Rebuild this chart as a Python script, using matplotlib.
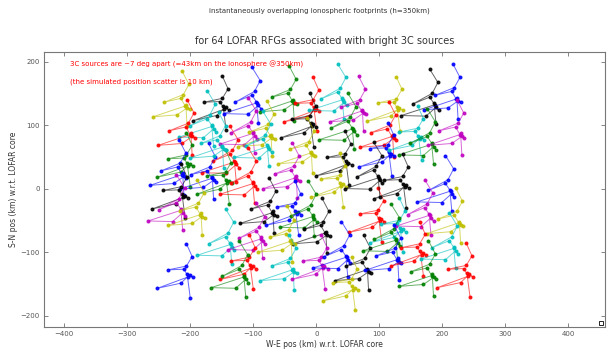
import matplotlib
matplotlib.use('Agg')
import matplotlib.pyplot as plt

# LOFAR station layout as seen on the ionosphere (km offsets from the core), path order
shape_a_x = [-5, 6, -3, -33, -7, 0, -51, -13, 3, 7, 1, 3]
shape_a_y = [55, 34, 18, 6, 12, 0, -17, -14, -3, -5, 2, -32]
shape_b_x = [-1, 8, -1, -30, -5, 2, -47, -10, 4, 9, 0, 5]
shape_b_y = [50, 30, 15, 9, 10, -2, -20, -12, 1, -3, 3, -35]
shape_c_x = [-9, 4, -5, -36, -9, -1, -54, -15, 1, 5, -2, 1]
shape_c_y = [58, 37, 20, 3, 14, 2, -15, -16, -2, -7, 4, -29]
shapes = [(shape_a_x, shape_a_y), (shape_b_x, shape_b_y), (shape_c_x, shape_c_y)]

# pierce-point centres of the 64 RFGs (km w.r.t. LOFAR core) and their colours
centre_x = [-208, -148, -164, -200, -205, -128, -166, -143, -93, -38, -4, 43, 72, 128,
            -99, -73, -9, 59, 120, 115, -76, -9, 47, -99, -33, 38, 189, 222, 162, 185,
            228, 138, 214, -213, -213, -213, -184, -205, -135, -70, -33, -4, 14, 99,
            -86, -41, -105, -113, -38, 9, 49, 80, 57, 181, 226, 133, 128, 128, 165, 220,
            183, 239, 100, -150]
centre_y = [130, 127, 96, 85, 38, 40, 16, 11, 133, 138, 125, 138, 122, 126,
            85, 83, 100, 92, 82, 54, 64, 56, 40, 6, 17, 6, 130, 141, 80, 68,
            85, 4, -6, 22, -12, -36, -41, -137, -90, -38, -38, -46, -70, -49,
            -81, -83, -123, -141, -128, -123, -110, -128, -157, -44, -54, -65, -83, -112, -102, -96,
            -137, -136, 15, 65]
colours = ['y', 'k', 'c', 'r', 'g', 'r', 'b', 'g', 'b', 'g', 'r', 'c', 'm', 'y',
           'm', 'y', 'k', 'g', 'r', 'b', 'c', 'y', 'k', 'r', 'm', 'y', 'k', 'b', 'c', 'g',
           'm', 'k', 'b', 'b', 'k', 'm', 'y', 'b', 'c', 'k', 'b', 'g', 'k', 'r',
           'm', 'y', 'r', 'g', 'c', 'm', 'b', 'k', 'y', 'm', 'y', 'c', 'g', 'b', 'r', 'c',
           'g', 'r', 'k', 'c']

cmap = {'b': (0, 0, 1), 'g': (0, 0.5, 0), 'r': (1, 0, 0), 'c': (0, 0.75, 0.75),
        'm': (0.75, 0, 0.75), 'y': (0.75, 0.75, 0), 'k': (0, 0, 0)}

fig = plt.figure(figsize=(6.09, 3.49), dpi=100)
ax = fig.add_axes([0.0723, 0.063, 0.921, 0.788])

for i in range(len(centre_x)):
    sx, sy = shapes[i % 3]
    xs = [centre_x[i] + d for d in sx]
    ys = [centre_y[i] + d for d in sy]
    c = cmap[colours[i]]
    ax.plot(xs, ys, '-', color=c, lw=0.7, alpha=0.6)
    ax.plot(xs, ys, 'o', color=c, ms=1.9, mec=c, alpha=0.85)

ax.plot([452], [-212], 's', mfc='none', mec='k', ms=3, mew=0.6)

ax.set_xlim(-432, 458)
ax.set_ylim(-218, 215)
ax.set_xticks(range(-400, 401, 100))
ax.set_yticks(range(-200, 201, 100))
ax.tick_params(direction='in', labelsize=5, colors='#555555', length=3, width=0.5,
               top=True, right=True, pad=3)
for sp in ax.spines.values():
    sp.set_color('#777777')
    sp.set_linewidth(0.8)

ax.set_xlabel('W-E pos (km) w.r.t. LOFAR core', fontsize=5.5, color='#333333', labelpad=2)
ax.set_ylabel('S-N pos (km) w.r.t. LOFAR core', fontsize=5.5, color='#333333', labelpad=2)
ax.set_title('for 64 LOFAR RFGs associated with bright 3C sources', fontsize=7,
             color='#333333', pad=6)
fig.text(0.525, 0.963, 'instantaneously overlapping ionospheric footprints (h=350km)',
         fontsize=5, color='#333333', ha='center')

ax.text(-390, 195, '3C sources are ~7 deg apart (=43km on the ionosphere @350km)',
        fontsize=5, color='red', va='center')
ax.text(-390, 168, '(the simulated position scatter is 10 km)',
        fontsize=5, color='red', va='center')

fig.savefig('out.png', dpi=100)
